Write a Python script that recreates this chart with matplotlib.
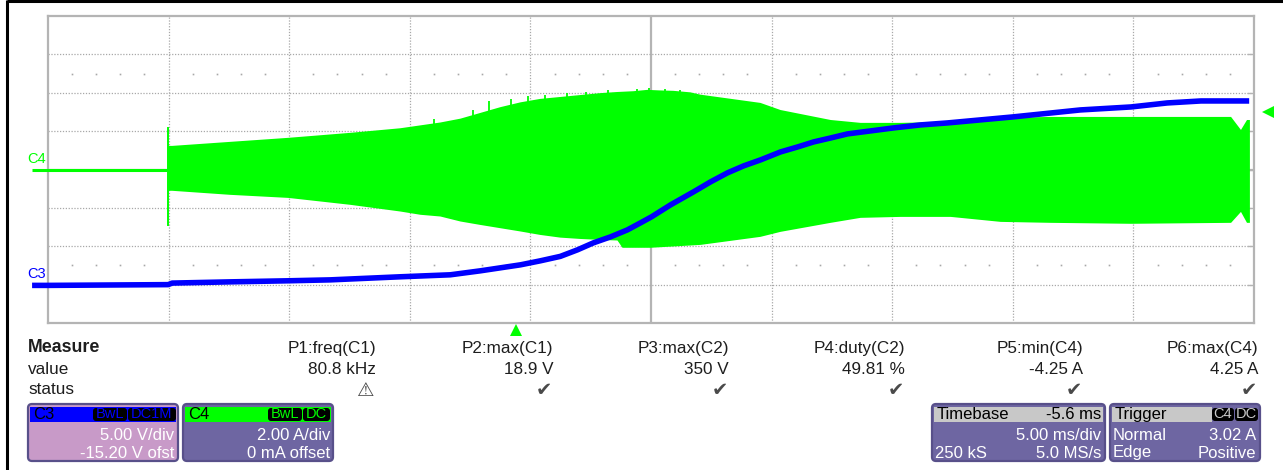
import matplotlib
matplotlib.use("Agg")
import matplotlib.pyplot as plt
from matplotlib.patches import FancyBboxPatch, Rectangle

# ---------------- data ----------------
# C3 (blue) voltage trace, time in ms from left edge, volts
t_v = [0.0, 4.98, 5.15, 7.55, 9.96, 11.7, 14.6, 16.68, 17.93, 18.76, 19.59,
       20.41, 21.24, 21.95, 22.61, 23.32, 24.02, 24.56, 25.02, 25.81, 26.76,
       27.47, 28.17, 28.84, 29.54, 30.37, 31.08, 31.74, 32.45, 33.15, 34.11,
       35.06, 36.18, 37.30, 40.0, 42.8, 44.9, 46.4, 47.8, 49.8]
v_c3 = [0.1, 0.2, 0.4, 0.56, 0.7, 0.82, 1.22, 1.48, 2.0, 2.39, 2.78, 3.30,
        3.88, 4.73, 5.64, 6.42, 7.33, 8.24, 9.03, 10.59, 12.28, 13.59, 14.76,
        15.67, 16.45, 17.49, 18.14, 18.79, 19.31, 19.84, 20.23, 20.62, 21.01,
        21.27, 22.05, 22.96, 23.35, 23.87, 24.13, 24.13]

# C4 (green) current burst, upper envelope (ms / A)
t_top = [5.0, 5.15, 7.55, 9.96, 12.53, 14.61, 15.44, 16.27, 17.10, 17.93,
         18.76, 19.59, 20.41, 21.24, 22.07, 22.90, 23.61, 24.27, 24.85, 25.39,
         25.93, 26.64, 27.05, 29.54, 30.37, 32.45, 33.69, 35.35, 37.43, 39.50,
         41.58, 44.90, 49.05, 49.46, 49.71, 49.83]
i_top = [1.23, 1.23, 1.44, 1.65, 1.91, 2.15, 2.30, 2.45, 2.65, 2.95, 3.25,
         3.50, 3.68, 3.78, 3.88, 3.98, 4.04, 4.08, 4.15, 4.12, 4.10, 4.02,
         3.90, 3.47, 3.10, 2.58, 2.43, 2.43, 2.48, 2.69, 2.74, 2.74, 2.74,
         2.06, 2.58, 2.58]
# lower envelope (ms / A)
t_bot = [5.0, 5.15, 7.55, 9.96, 12.53, 14.61, 15.44, 16.27, 17.10, 17.93,
         18.76, 19.59, 20.41, 21.24, 22.07, 22.90, 23.61, 23.82, 24.98, 27.05,
         29.54, 30.37, 32.45, 33.69, 35.35, 37.43, 39.50, 41.58, 44.90, 49.05,
         49.46, 49.71, 49.83]
i_bot = [-1.11, -1.11, -1.32, -1.48, -1.84, -2.19, -2.36, -2.45, -2.71, -2.89,
         -3.06, -3.23, -3.41, -3.55, -3.62, -3.67, -3.70, -4.08, -4.08, -3.93,
         -3.51, -3.25, -2.78, -2.52, -2.47, -2.47, -2.73, -2.78, -2.83, -2.78,
         -2.21, -2.78, -2.78]
# noise spikes on the upper edge of the burst (ms / A)
t_hair = [16.0, 17.6, 18.3, 19.2, 19.9, 20.6, 21.5, 22.3, 23.2, 24.4, 24.9,
          25.6, 26.2]
i_hair = [2.62, 3.10, 3.55, 3.68, 3.85, 3.88, 3.98, 4.05, 4.12, 4.22, 4.25,
          4.22, 4.12]
t_pre = [-0.66, 5.0]          # C4 idle before burst
i_pre = [0.0, 0.0]
t_spike = [4.98, 4.98]        # switch-on spike
i_spike = [-2.89, 2.17]

# scope settings
ms_per_div = 5.0
a_per_div = 2.0
v_per_div = 5.0
v_offset = -15.20
trig_level = 3.02
trig_time = 19.4

meas_names = ["P1:freq(C1)", "P2:max(C1)", "P3:max(C2)", "P4:duty(C2)",
              "P5:min(C4)", "P6:max(C4)"]
meas_values = ["80.8 kHz", "18.9 V", "350 V", "49.81 %", "-4.25 A", "4.25 A"]
meas_status = ["warn", "ok", "ok", "ok", "ok", "ok"]

# ---------------- figure ----------------
W, H = 1283, 470
fig = plt.figure(figsize=(W / 100, H / 100), dpi=100)
FONT = "Liberation Sans"
TXT = "#1e1e1e"

bg = fig.add_axes([0, 0, 1, 1])
bg.set_xlim(0, W)
bg.set_ylim(H, 0)
bg.axis("off")

# outer black frame
bg.plot([7, 7], [0, H], color="black", lw=2.2, solid_capstyle="butt")
bg.plot([7, W], [1.2, 1.2], color="black", lw=2.2, solid_capstyle="butt")

# grid area
gx0, gx1, gy0, gy1 = 48, 1254, 16, 323
ax = fig.add_axes([gx0 / W, 1 - gy1 / H, (gx1 - gx0) / W, (gy1 - gy0) / H])
ax.set_xlim(0, 10 * ms_per_div)
ax.set_ylim(-4 * a_per_div, 4 * a_per_div)
ax.set_xticks([])
ax.set_yticks([])
for s in ax.spines.values():
    s.set_color("#b4b4b4")
    s.set_linewidth(1.6)

gcol = "#a8a8a8"
for k in range(1, 10):
    x = k * ms_per_div
    if k == 5:
        ax.axvline(x, color="#b4b4b4", lw=1.6, zorder=1)
    else:
        ax.axvline(x, color=gcol, lw=0.9, ls=(0, (1, 1.3)), zorder=1)
for k in range(-3, 4):
    y = k * a_per_div
    if k == 0:
        ax.axhline(y, color="#b4b4b4", lw=1.6, zorder=1)
    else:
        ax.axhline(y, color=gcol, lw=0.9, ls=(0, (1, 1.3)), zorder=1)
# dot rows
dots_x = [d * ms_per_div / 5 for d in range(1, 50) if d % 5 != 0]
for yd in (2.5, -2.5):
    ax.plot(dots_x, [yd * a_per_div] * len(dots_x), ls="none", marker="s",
            ms=1.2, color=gcol, mew=0, zorder=1)
# right-edge ticks
for k in range(-3, 4):
    ax.plot([10 * ms_per_div - 0.25, 10 * ms_per_div], [k * a_per_div] * 2,
            color="#b4b4b4", lw=1.0, zorder=1)

green = "#00ff00"
blue = "#0000ff"
# C4 current
ax.plot(t_pre, i_pre, color=green, lw=2.2, zorder=3, clip_on=False,
        solid_capstyle="butt")
ax.plot(t_spike, i_spike, color=green, lw=1.4, zorder=3)
ax.fill(t_top + t_bot[::-1], i_top + i_bot[::-1], color=green, lw=0, zorder=3)
ax.vlines(t_hair, [0] * len(t_hair), i_hair, color=green, lw=1.3, zorder=3)

# C3 voltage on twin axis
axv = ax.twinx()
axv.set_ylim(-4 * v_per_div - v_offset, 4 * v_per_div - v_offset)
axv.axis("off")
axv.plot([-0.66] + t_v, [v_c3[0]] + v_c3, color=blue, lw=4.0, zorder=4,
         clip_on=False, solid_capstyle="butt", solid_joinstyle="round")

# trigger markers
ax.plot([10 * ms_per_div + 0.6], [trig_level], marker="<", ms=9, color=green,
        clip_on=False, zorder=5, mew=0)
ax.plot([trig_time], [-4 * a_per_div - 0.35], marker="^", ms=8, color=green,
        clip_on=False, zorder=5, mew=0)

# channel labels
bg.text(27, 159, "C4", color=green, fontsize=10.5, family=FONT, va="center")
bg.text(27, 274, "C3", color=blue, fontsize=10.5, family=FONT, va="center")

# annotations
bg.text(417, 104, "current", fontsize=12.5, family=FONT, va="center")
bg.plot([417, 473], [112, 112], color="black", lw=0.9)
bg.plot([447, 491], [113, 133], color="black", lw=0.9)
bg.text(363, 250, "24V", fontsize=12.5, family=FONT, va="center")
bg.plot([363, 397], [257, 257], color="black", lw=0.9)
bg.plot([383, 413], [258, 278], color="black", lw=0.9)

# measurement table
FS = 12.3
bg.text(28, 348, "Measure", fontsize=12.8, family=FONT, weight="bold",
        va="center", color=TXT)
bg.text(28, 369, "value", fontsize=FS, family=FONT, va="center", color=TXT)
bg.text(28, 390, "status", fontsize=FS, family=FONT, va="center", color=TXT)
col_right = [376, 553, 729, 905, 1083, 1258]
for xr, nm, val, st in zip(col_right, meas_names, meas_values, meas_status):
    bg.text(xr, 348, nm, fontsize=FS, family=FONT, ha="right", va="center",
            color=TXT)
    bg.text(xr, 369, val, fontsize=FS, family=FONT, ha="right", va="center",
            color=TXT)
    sym = "\u26a0" if st == "warn" else "\u2714"
    bg.text(xr - 1, 391, sym, fontsize=14, family="DejaVu Sans", ha="right",
            va="center", color="#4a4a4a")


def box(x0, x1, y0, y1, body, border):
    p = FancyBboxPatch((x0, y0), x1 - x0, y1 - y0,
                       boxstyle="round,pad=0,rounding_size=4",
                       fc=body, ec=border, lw=1.6, zorder=2)
    bg.add_patch(p)


def header(x0, x1, y0, y1, col):
    bg.add_patch(Rectangle((x0, y0), x1 - x0, y1 - y0, fc=col, ec="none",
                           zorder=3))


def badge(x0, x1, y, label, tcol):
    p = FancyBboxPatch((x0, y - 6.5), x1 - x0, 13,
                       boxstyle="round,pad=0,rounding_size=3",
                       fc="black", ec="none", zorder=4)
    bg.add_patch(p)
    bg.text((x0 + x1) / 2, y, label, color=tcol, fontsize=10.5, family=FONT,
            ha="center", va="center", zorder=5)


BFS = 12
purple_body = "#6e66a2"
purple_border = "#58508a"
# C3 box
box(28, 178, 404, 461, "#c89ac8", purple_border)
header(30, 176, 407, 422, blue)
bg.text(33, 414.5, "C3", fontsize=BFS, family=FONT, va="center", zorder=5)
badge(93, 127, 414.5, "BwL", blue)
badge(128, 176, 414.5, "DC1M", blue)
bg.text(174, 435, "5.00 V/div", fontsize=BFS, family=FONT, ha="right",
        va="center", color="white", zorder=5)
bg.text(174, 453, "-15.20 V ofst", fontsize=BFS, family=FONT, ha="right",
        va="center", color="white", zorder=5)

# C4 box
box(183, 333, 404, 461, purple_body, purple_border)
header(185, 331, 407, 422, green)
bg.text(188, 414.5, "C4", fontsize=BFS, family=FONT, va="center", zorder=5)
badge(268, 302, 414.5, "BwL", green)
badge(303, 330, 414.5, "DC", green)
bg.text(330, 435, "2.00 A/div", fontsize=BFS, family=FONT, ha="right",
        va="center", color="white", zorder=5)
bg.text(330, 453, "0 mA offset", fontsize=BFS, family=FONT, ha="right",
        va="center", color="white", zorder=5)

# Timebase box
box(932, 1105, 404, 461, purple_body, purple_border)
header(934, 1103, 407, 422, "#c8c8c8")
bg.text(937, 414.5, "Timebase", fontsize=BFS, family=FONT, va="center",
        zorder=5)
bg.text(1101, 414.5, "-5.6 ms", fontsize=BFS, family=FONT, ha="right",
        va="center", zorder=5)
bg.text(1101, 435, "5.00 ms/div", fontsize=BFS, family=FONT, ha="right",
        va="center", color="white", zorder=5)
bg.text(935, 453, "250 kS", fontsize=BFS, family=FONT, va="center",
        color="white", zorder=5)
bg.text(1101, 453, "5.0 MS/s", fontsize=BFS, family=FONT, ha="right",
        va="center", color="white", zorder=5)

# Trigger box
box(1110, 1260, 404, 461, purple_body, purple_border)
header(1112, 1212, 407, 422, "#c8c8c8")
bg.text(1115, 414.5, "Trigger", fontsize=BFS, family=FONT, va="center",
        zorder=5)
badge(1212, 1234, 414.5, "C4", "#c8c8c8")
badge(1235, 1258, 414.5, "DC", "#c8c8c8")
bg.text(1256, 435, "3.02 A", fontsize=BFS, family=FONT, ha="right",
        va="center", color="white", zorder=5)
bg.text(1113, 435, "Normal", fontsize=BFS, family=FONT, va="center",
        color="white", zorder=5)
bg.text(1113, 453, "Edge", fontsize=BFS, family=FONT, va="center",
        color="white", zorder=5)
bg.text(1256, 453, "Positive", fontsize=BFS, family=FONT, ha="right",
        va="center", color="white", zorder=5)

fig.savefig("out.png", dpi=100)
